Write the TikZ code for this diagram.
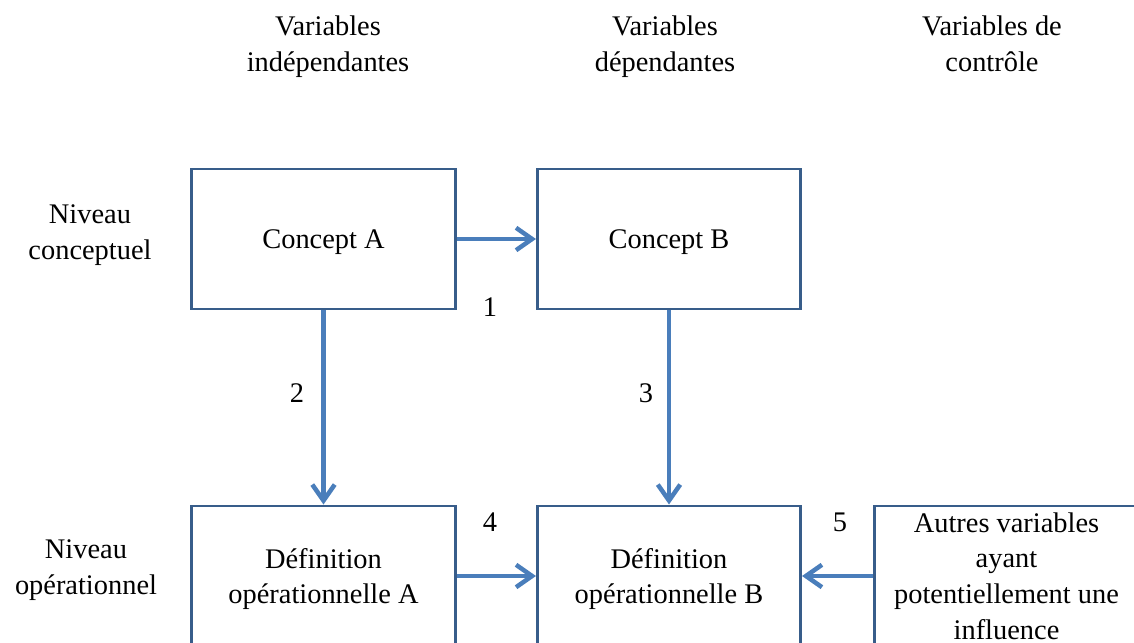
\documentclass[tikz,border=0pt]{standalone}
\usepackage{fontspec}
\setmainfont{Liberation Serif}
\usetikzlibrary{arrows.meta}
\definecolor{boxblue}{RGB}{56,93,138}
\definecolor{arrowblue}{RGB}{74,126,187}

\begin{document}
\begin{tikzpicture}[x=0.025cm, y=-0.025cm,
    every node/.style={font=\fontsize{20.2}{25.5}\selectfont, align=center, text depth=0pt},
    box/.style={draw=boxblue, line width=2.1pt, minimum width=6.575cm, minimum height=3.5cm, inner sep=0pt},
    link/.style={draw=arrowblue, line width=3.2pt, -{Straight Barb[length=4mm, width=5.6mm]}}]

    \useasboundingbox (0,0) rectangle (1134,643);

    % Column headers
    \node (hIndep) at (328,44) {Variables\\ indépendantes};
    \node (hDep) at (665,44) {Variables\\ dépendantes};
    \node (hCtrl) at (992,44) {Variables de\\ contrôle};

    % Row headers
    \node (rConc) at (90,232) {Niveau\\ conceptuel};
    \node (rOper) at (86,567) {Niveau\\ opérationnel};

    % Boxes
    \node[box] (conceptA) at (323.5,239) {Concept A};
    \node[box] (conceptB) at (669,239) {Concept B};
    \node[box] (defA) at (323.5,576) {Définition\\ opérationnelle A};
    \node[box] (defB) at (669,576) {Définition\\ opérationnelle B};
    \node[box] (autres) at (1006.5,576) {Autres variables\\ ayant\\ potentiellement une\\ influence};

    % Arrows
    \draw[link] (conceptA.east) -- (conceptB.west);
    \draw[link] (conceptA.south) -- (defA.north);
    \draw[link] (conceptB.south) -- (defB.north);
    \draw[link] (defA.east) -- (defB.west);
    \draw[link] (autres.west) -- (defB.east);

    % Numbers
    \node (n1) at (490,307) {1};
    \node (n2) at (297,393) {2};
    \node (n3) at (646,393) {3};
    \node (n4) at (490,522) {4};
    \node (n5) at (840,522) {5};

\end{tikzpicture}
\end{document}
